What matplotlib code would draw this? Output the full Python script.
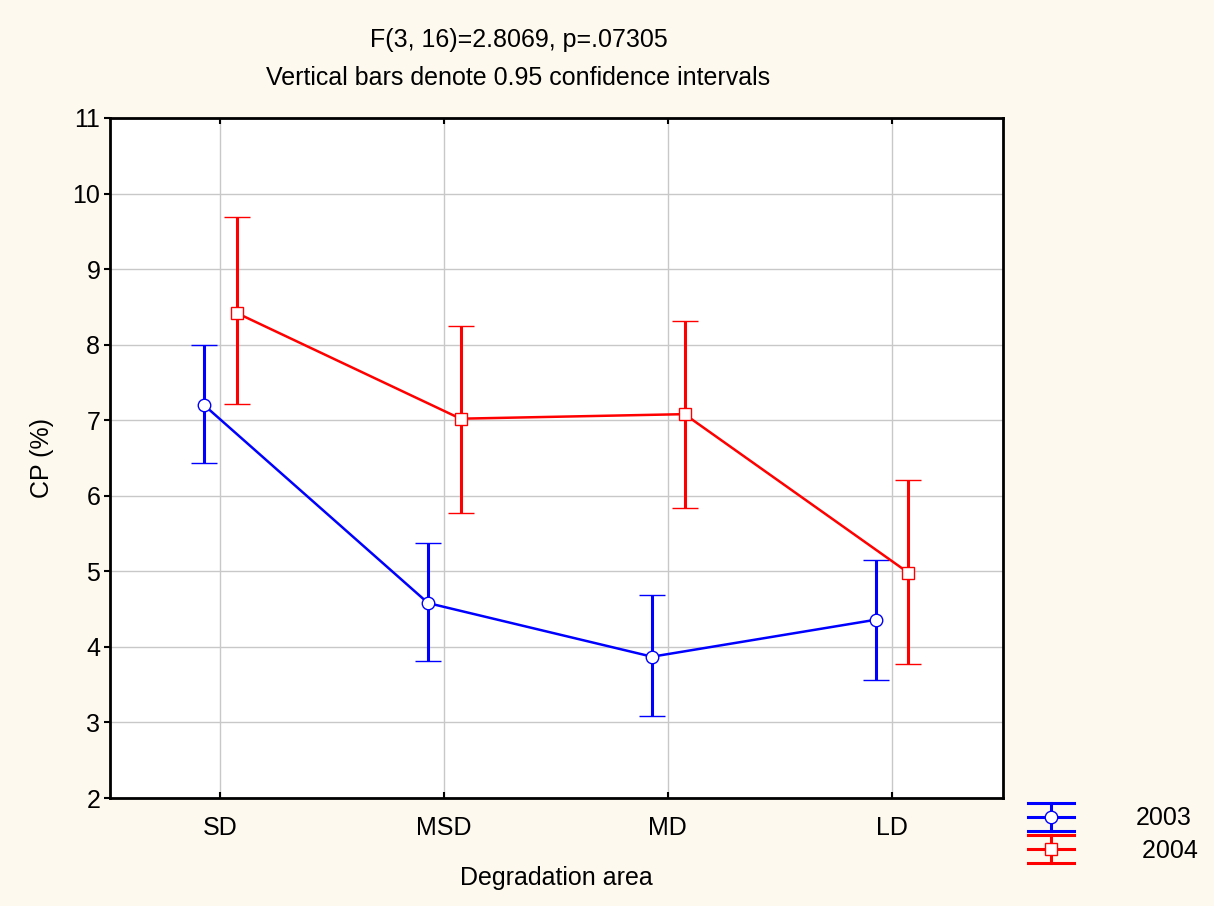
import matplotlib
matplotlib.use("Agg")
import matplotlib.pyplot as plt
from matplotlib.lines import Line2D
from matplotlib.legend_handler import HandlerBase
import numpy as np

plt.rcParams['font.family'] = ['Liberation Sans', 'DejaVu Sans']

categories = ["SD", "MSD", "MD", "LD"]
years = ["2003", "2004"]

mean_2003 = [7.20, 4.58, 3.87, 4.36]
upper_2003 = [8.00, 5.37, 4.69, 5.15]
lower_2003 = [6.43, 3.81, 3.09, 3.56]

mean_2004 = [8.42, 7.02, 7.08, 4.98]
upper_2004 = [9.69, 8.25, 8.31, 6.21]
lower_2004 = [7.21, 5.77, 5.84, 3.77]

yticks = list(range(2, 12))


class WideCapHandler(HandlerBase):
    """Legend glyph: wide top/bottom caps, a centre line, a stem and the marker."""

    def __init__(self, color, marker, msize):
        super().__init__()
        self.color = color
        self.marker = marker
        self.msize = msize

    def create_artists(self, legend, orig_handle, xdescent, ydescent,
                       width, height, fontsize, trans):
        yc = height / 2 - ydescent
        half = 10.0
        x0, x1 = -xdescent, width - xdescent
        xm = (x0 + x1) / 2
        arts = []
        for yy in (yc - half, yc, yc + half):
            arts.append(Line2D([x0, x1], [yy, yy], color=self.color, lw=2.2,
                               transform=trans))
        arts.append(Line2D([xm, xm], [yc - half, yc + half], color=self.color,
                           lw=2.2, transform=trans))
        arts.append(Line2D([xm], [yc], marker=self.marker, ms=self.msize,
                           mfc="white", mec=self.color, mew=1.0,
                           linestyle="none", transform=trans))
        return arts


bg = "#FDF9EF"
fig = plt.figure(figsize=(12.14, 9.06), dpi=100, facecolor=bg)
ax = fig.add_axes([0.0906, 0.1192, 0.7356, 0.7506])
ax.set_facecolor("white")

x = np.arange(len(categories))
series = [
    (mean_2003, lower_2003, upper_2003, "#0000FF", "o", 9.0, -0.07),
    (mean_2004, lower_2004, upper_2004, "#FF0000", "s", 8.5, 0.075),
]
handles = []
handler_map = {}
for mean, lo, hi, color, marker, ms, off in series:
    mean = np.array(mean)
    err = np.vstack([mean - np.array(lo), np.array(hi) - mean])
    h = ax.errorbar(x + off, mean, yerr=err, color=color, lw=1.8,
                    elinewidth=2.2, capsize=9.5, capthick=2.2,
                    marker=marker, markersize=ms,
                    markerfacecolor="white", markeredgecolor=color,
                    markeredgewidth=1.0, zorder=3)
    handles.append(h)
    handler_map[h] = WideCapHandler(color, marker, ms)

ax.set_xlim(-0.49, 3.497)
ax.set_ylim(2, 11)
ax.set_xticks(x)
ax.set_xticklabels(categories)
ax.set_yticks(yticks)
ax.grid(True, color="#C8C8C8", lw=1.0)
ax.set_axisbelow(True)
for s in ax.spines.values():
    s.set_linewidth(2)
    s.set_color("black")
ax.tick_params(axis="x", direction="in", length=4, width=1.5, top=True,
               labelsize=18, pad=13)
ax.tick_params(axis="y", direction="out", length=4, width=1.5,
               labelsize=18, pad=3)

ax.set_xlabel("Degradation area", fontsize=18, labelpad=18.5)
ax.set_ylabel("CP (%)", fontsize=18, labelpad=13.5)

fig.text(0.427, 0.956, "F(3, 16)=2.8069, p=.07305", ha="center", va="center",
         fontsize=18)
fig.text(0.427, 0.914, "Vertical bars denote 0.95 confidence intervals",
         ha="center", va="center", fontsize=18)

labels = [years[0], " " + years[1]]
leg = fig.legend(handles=handles, labels=labels, handler_map=handler_map,
                 loc="center left", bbox_to_anchor=(0.847, 0.0787),
                 frameon=False, fontsize=18, handlelength=1.84,
                 handleheight=0.8, handletextpad=2.44, labelspacing=0.35,
                 borderpad=0, borderaxespad=0)

fig.savefig("out.png", dpi=100, facecolor=bg)
